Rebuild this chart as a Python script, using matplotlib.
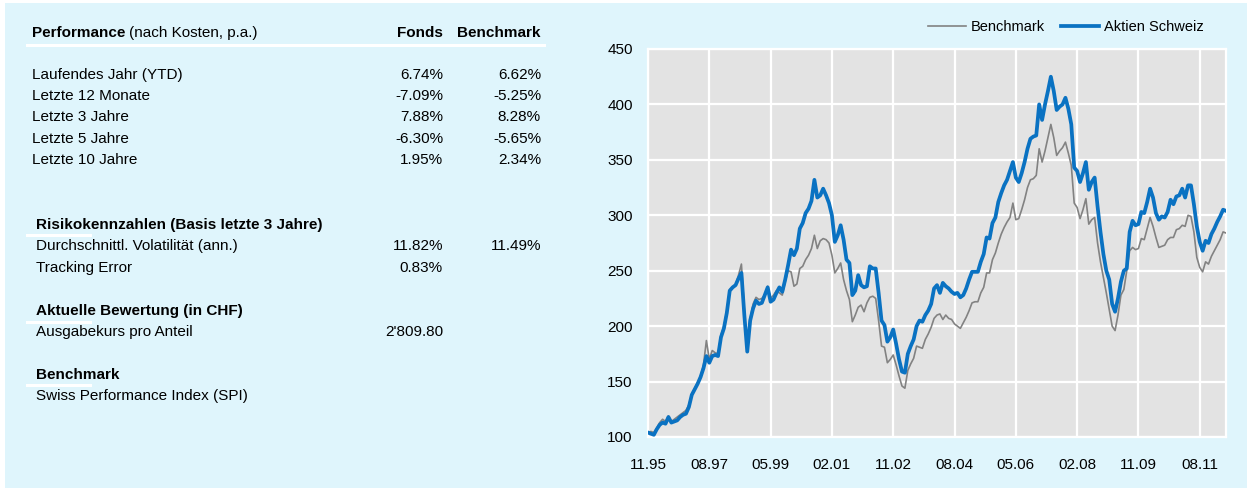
import matplotlib
matplotlib.use("Agg")
import matplotlib.pyplot as plt
from matplotlib.patches import Rectangle
from matplotlib.lines import Line2D

plt.rcParams["font.family"] = ["Liberation Sans", "DejaVu Sans"]

# monthly index values, 11.95 = month 0
fund = [
    104, 103, 102, 107, 111, 113, 112, 118, 113, 114,
    115, 118, 120, 121, 127, 138, 143, 148, 154, 162,
    173, 167, 173, 174, 173, 190, 198, 212, 232, 235,
    237, 243, 248, 210, 177, 205, 216, 223, 220, 221,
    228, 235, 222, 224, 230, 235, 231, 242, 255, 269,
    264, 270, 288, 293, 302, 306, 313, 332, 316, 318,
    324, 318, 311, 300, 276, 282, 291, 278, 260, 257,
    228, 232, 246, 237, 235, 236, 254, 252, 252, 230,
    205, 201, 186, 190, 197, 184, 170, 159, 158, 175,
    182, 188, 200, 205, 204, 210, 214, 220, 234, 237,
    230, 239, 236, 234, 231, 229, 230, 226, 228, 234,
    242, 249, 249, 249, 258, 265, 280, 279, 293, 298,
    312, 320, 327, 332, 340, 348, 334, 330, 338, 348,
    360, 369, 371, 372, 400, 386, 400, 412, 425, 412,
    395, 398, 400, 406, 396, 382, 343, 340, 330, 338,
    348, 323, 330, 334, 308, 285, 265, 250, 242, 220,
    213, 225, 240, 250, 252, 285, 295, 291, 292, 303,
    302, 312, 324, 316, 302, 296, 299, 298, 303, 314,
    310, 317, 318, 324, 316, 327, 327, 310, 290, 276,
    268, 277, 275, 283, 288, 294, 299, 305, 304,
]
benchmark = [
    104, 105, 104, 108, 113, 116, 114, 119, 114, 116,
    118, 120, 122, 124, 129, 139, 144, 149, 155, 165,
    187, 170, 178, 176, 175, 192, 200, 214, 233, 235,
    237, 246, 256, 215, 178, 207, 220, 226, 224, 225,
    228, 236, 225, 228, 232, 230, 228, 240, 250, 249,
    236, 238, 252, 254, 260, 264, 270, 282, 270, 277,
    279, 278, 275, 264, 248, 252, 257, 242, 232, 224,
    204, 210, 217, 219, 213, 221, 226, 227, 225, 205,
    182, 181, 167, 170, 174, 165, 155, 146, 144, 160,
    166, 171, 182, 181, 180, 188, 193, 199, 207, 210,
    211, 206, 210, 207, 206, 202, 200, 198, 203, 208,
    214, 221, 222, 222, 230, 235, 248, 248, 260, 266,
    275, 283, 289, 294, 298, 311, 296, 297, 305, 314,
    325, 332, 333, 336, 360, 348, 358, 370, 382, 370,
    354, 358, 361, 366, 356, 345, 311, 307, 297, 305,
    315, 292, 296, 298, 275, 258, 244, 230, 215, 200,
    196, 210, 228, 233, 250, 268, 271, 269, 270, 279,
    278, 288, 298, 290, 280, 271, 272, 273, 278, 280,
    280, 287, 288, 291, 290, 300, 299, 285, 262, 253,
    249, 258, 256, 263, 268, 273, 278, 285, 284,
]
months = list(range(len(fund)))
tick_months = [0, 21, 42, 63, 84, 105, 126, 147, 168, 189]
tick_labels = ["11.95", "08.97", "05.99", "02.01", "11.02",
               "08.04", "05.06", "02.08", "11.09", "08.11"]
y_ticks = [100, 150, 200, 250, 300, 350, 400, 450]

# table content
perf_rows = ["Laufendes Jahr (YTD)", "Letzte 12 Monate", "Letzte 3 Jahre",
             "Letzte 5 Jahre", "Letzte 10 Jahre"]
perf_fonds = ["6.74%", "-7.09%", "7.88%", "-6.30%", "1.95%"]
perf_bench = ["6.62%", "-5.25%", "8.28%", "-5.65%", "2.34%"]

W, H = 1250, 488
BG = "#dff5fc"
BLUE = "#0a72c2"
GREY = "#828282"
FS = 11       # table text
FS_AX = 11    # tick labels
FS_LEG = 10.5

fig = plt.figure(figsize=(W / 100, H / 100), dpi=100, facecolor="white")


def fx(px):
    return px / W


def fy(py):
    return 1 - py / H


# cyan background panel, kept behind the axes
fig.patches.append(Rectangle((fx(5), 0), fx(1242), fy(3), transform=fig.transFigure,
                             facecolor=BG, edgecolor="none", zorder=-5))


def txt(x, y, s, ha="left", bold=False):
    return fig.text(fx(x), fy(y), s, ha=ha, va="center", fontsize=FS,
                    fontweight="bold" if bold else "normal", color="black")


def white_line(x0, x1, y, lw=2.2):
    fig.add_artist(Line2D([fx(x0), fx(x1)], [fy(y), fy(y)], transform=fig.transFigure,
                          color="white", lw=lw))


# performance table header: bold word followed by normal text
head = txt(32, 33, "Performance", bold=True)
renderer = fig.canvas.get_renderer()
head_end = head.get_window_extent(renderer).x1
txt(head_end + 4, 33, "(nach Kosten, p.a.)")
txt(443, 33, "Fonds", ha="right", bold=True)
txt(541, 33, "Benchmark", ha="right", bold=True)
white_line(27, 544, 45)
row_y = [75, 96, 117, 139, 160]
for y, lab, f, b in zip(row_y, perf_rows, perf_fonds, perf_bench):
    txt(32, y, lab)
    txt(443, y, f, ha="right")
    txt(541, y, b, ha="right")

# risk and other sections
txt(36, 225, "Risikokennzahlen (Basis letzte 3 Jahre)", bold=True)
white_line(27, 90, 235)
txt(36, 246, "Durchschnittl. Volatilität (ann.)")
txt(443, 246, "11.82%", ha="right")
txt(541, 246, "11.49%", ha="right")
txt(36, 268, "Tracking Error")
txt(443, 268, "0.83%", ha="right")

txt(36, 311, "Aktuelle Bewertung (in CHF)", bold=True)
white_line(27, 90, 322)
txt(36, 332, "Ausgabekurs pro Anteil")
txt(443, 332, "2'809.80", ha="right")

txt(36, 375, "Benchmark", bold=True)
white_line(27, 90, 385)
txt(36, 396, "Swiss Performance Index (SPI)")

# chart
ax = fig.add_axes([fx(648), fy(437), fx(1226 - 648), (437 - 49) / H])
ax.set_facecolor("#e3e3e3")
ax.plot(months, benchmark, color=GREY, lw=1.2, label="Benchmark", zorder=3)
ax.plot(months, fund, color=BLUE, lw=2.7, label="Aktien Schweiz", zorder=4)
ax.set_xlim(0, 198)
ax.set_ylim(100, 450)
ax.set_xticks(tick_months)
ax.set_xticklabels(tick_labels)
ax.set_yticks(y_ticks)
ax.grid(True, color="white", lw=1.6, zorder=1)
ax.set_axisbelow(True)
ax.tick_params(length=0, labelsize=FS_AX, colors="black")
ax.tick_params(axis="x", pad=15)
ax.tick_params(axis="y", pad=11)
for sp in ax.spines.values():
    sp.set_color("white")
    sp.set_linewidth(1.6)

fig.legend(loc="center right", bbox_to_anchor=(fx(1204), fy(27)), ncol=2,
           frameon=False, fontsize=FS_LEG, handlelength=2.6, handletextpad=0.35,
           columnspacing=1.1, borderpad=0, borderaxespad=0)

fig.savefig("out.png", dpi=100, facecolor="white")
